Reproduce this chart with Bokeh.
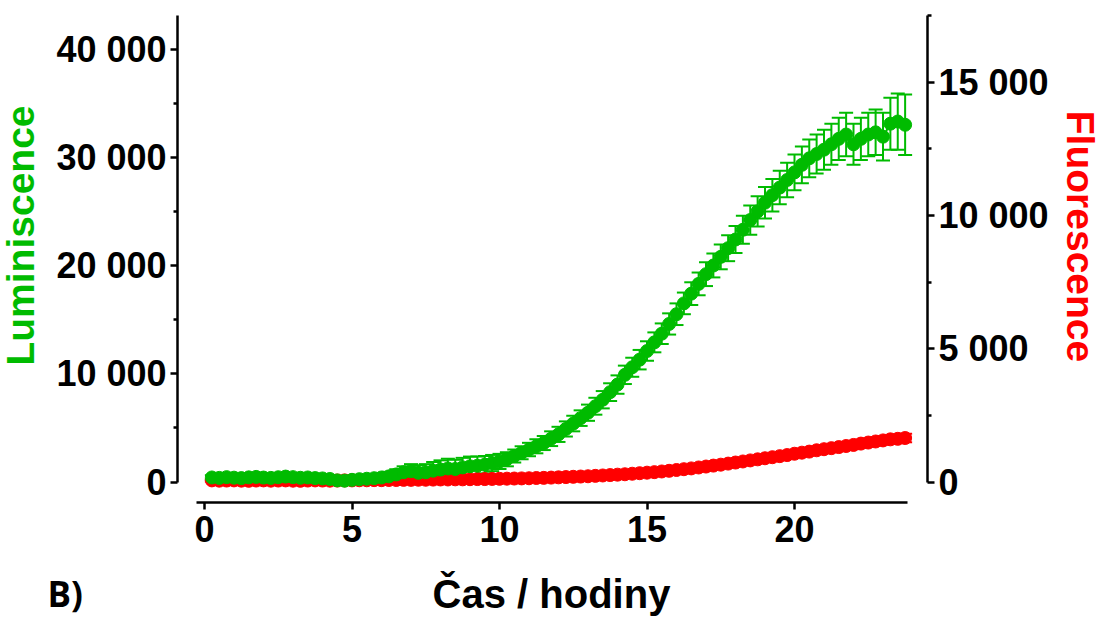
import math
from bokeh.plotting import figure
from bokeh.models import (Range1d, LinearAxis, FixedTicker, ColumnDataSource,
                          Whisker, TeeHead, Label)
from bokeh.embed import file_html
from bokeh.resources import INLINE

# ---------------- data ----------------
time_h = [0.25, 0.5, 0.75, 1.0, 1.25, 1.5, 1.75, 2.0, 2.25, 2.5, 2.75, 3.0,
          3.25, 3.5, 3.75, 4.0, 4.25, 4.5, 4.75, 5.0, 5.25, 5.5, 5.75, 6.0,
          6.25, 6.5, 6.75, 7.0, 7.25, 7.5, 7.75, 8.0, 8.25, 8.5, 8.75, 9.0,
          9.25, 9.5, 9.75, 10.0, 10.25, 10.5, 10.75, 11.0, 11.25, 11.5, 11.75, 12.0,
          12.25, 12.5, 12.75, 13.0, 13.25, 13.5, 13.75, 14.0, 14.25, 14.5, 14.75, 15.0,
          15.25, 15.5, 15.75, 16.0, 16.25, 16.5, 16.75, 17.0, 17.25, 17.5, 17.75, 18.0,
          18.25, 18.5, 18.75, 19.0, 19.25, 19.5, 19.75, 20.0, 20.25, 20.5, 20.75, 21.0,
          21.25, 21.5, 21.75, 22.0, 22.25, 22.5, 22.75, 23.0, 23.25, 23.5, 23.75]

luminescence = [420, 380, 450, 400, 360, 430, 470, 410, 380, 440, 500, 450, 390, 420, 360, 330,
                280, 150, 120, 200, 260, 300, 350, 420,
                520, 700, 900, 1000, 850, 900, 1050, 1150,
                1250, 1200, 1350, 1450, 1500, 1600, 1750, 1900,
                2100, 2400, 2700, 3000, 3300, 3600, 4000, 4400,
                4900, 5400, 5900, 6400, 7000, 7600, 8300, 9000,
                9900, 10600, 11300, 12100, 12900, 13700, 14600, 15500,
                16500, 17400, 18300, 19200, 20000, 20800, 21600, 22400,
                23300, 24200, 25000, 25800, 26500, 27200, 27900, 28600,
                29300, 29900, 30300, 30700, 31200, 31700, 32100, 31200,
                31700, 32100, 32300, 31900, 33100, 33300, 33000]

luminescence_err = [200, 180, 220, 200, 170, 210, 230, 200, 190, 220, 250, 230, 200, 210, 190, 180,
                    200, 220, 250, 280, 300, 320, 350, 380,
                    420, 480, 550, 650, 700, 750, 800, 850,
                    900, 850, 880, 900, 850, 800, 750, 700,
                    650, 600, 600, 620, 650, 650, 680, 700,
                    700, 720, 720, 750, 780, 800, 820, 850,
                    850, 880, 900, 900, 920, 950, 980, 1000,
                    1000, 1050, 1050, 1100, 1100, 1150, 1200, 1250,
                    1300, 1350, 1400, 1450, 1500, 1550, 1600, 1650,
                    1700, 1750, 1800, 1850, 1900, 1950, 2000, 1900,
                    1950, 2000, 2100, 2200, 2400, 2600, 2800]

fluorescence = [60, 50, 55, 60, 50, 45, 55, 60, 50, 55, 60, 50, 45, 55, 60, 55,
                50, 55, 60, 60, 65, 65, 70, 70,
                75, 75, 80, 80, 85, 85, 90, 95,
                95, 100, 100, 105, 110, 110, 115, 120,
                125, 130, 135, 140, 150, 155, 165, 175,
                185, 195, 205, 215, 230, 245, 260, 275,
                290, 310, 330, 350, 370, 395, 420, 450,
                480, 510, 545, 580, 615, 650, 690, 730,
                770, 810, 850, 890, 930, 970, 1010, 1060,
                1100, 1140, 1190, 1230, 1270, 1310, 1350, 1390,
                1440, 1480, 1520, 1560, 1600, 1620, 1650]

fluorescence_err = [40, 35, 40, 45, 40, 35, 40, 45, 40, 40, 45, 40, 35, 40, 45, 40,
                    40, 40, 45, 45, 45, 50, 50, 50,
                    50, 50, 55, 55, 55, 60, 60, 60,
                    60, 60, 65, 65, 65, 70, 70, 70,
                    70, 70, 75, 75, 75, 80, 80, 80,
                    80, 80, 85, 85, 85, 90, 90, 90,
                    90, 90, 95, 95, 95, 100, 100, 100,
                    100, 100, 105, 105, 105, 110, 110, 110,
                    110, 115, 115, 120, 120, 120, 125, 125,
                    125, 130, 130, 135, 135, 140, 140, 145,
                    145, 150, 150, 155, 155, 160, 160]

x_ticks = [0, 5, 10, 15, 20]
lum_ticks = [0, 10000, 20000, 30000, 40000]
lum_minor = [5000, 15000, 25000, 35000]
lum_labels = ["0", "10 000", "20 000", "30 000", "40 000"]
fl_ticks = [0, 5000, 10000, 15000]
fl_minor = [2500, 7500, 12500, 17500]
fl_labels = ["0", "5 000", "10 000", "15 000"]

GREEN = "#00bb00"
RED = "#ff0000"
FONT = "Liberation Sans"

W, H = 1101, 619
# pixel geometry of the reference (canvas coordinates, y from top)
PX_T0, PX_PER_H = 204.0, 29.5           # x: t=0 position, pixels per hour
PX_ZERO = 481.5                          # y pixel of value 0 on both y axes
PX_PER_LUM = 433.0 / 40000               # left axis pixels per unit
PX_PER_FL = 466.5 / 17500                # right axis pixels per unit
PX_LEFT_AX, PX_RIGHT_AX, PX_X_AX = 177.0, 927.0, 502.0

x_rng = Range1d(-PX_T0 / PX_PER_H, (W - PX_T0) / PX_PER_H)
lum_rng = Range1d(-(H - PX_ZERO) / PX_PER_LUM, PX_ZERO / PX_PER_LUM)
fl_rng = Range1d(-(H - PX_ZERO) / PX_PER_FL, PX_ZERO / PX_PER_FL)

lum_src = ColumnDataSource(dict(
    t=time_h, v=luminescence,
    lo=[v - e for v, e in zip(luminescence, luminescence_err)],
    hi=[v + e for v, e in zip(luminescence, luminescence_err)]))
fl_src = ColumnDataSource(dict(
    t=time_h, v=fluorescence,
    lo=[v - e for v, e in zip(fluorescence, fluorescence_err)],
    hi=[v + e for v, e in zip(fluorescence, fluorescence_err)]))

p = figure(width=W, height=H, output_backend="svg", toolbar_location=None,
           x_range=x_rng, y_range=lum_rng,
           min_border=0, min_border_left=0, min_border_right=0,
           min_border_top=0, min_border_bottom=0, outline_line_color=None,
           background_fill_color="white", border_fill_color="white")
p.extra_y_ranges = {"fl": fl_rng}
p.grid.visible = False


def style_axis(ax):
    ax.axis_line_width = 2.5
    ax.axis_line_color = "black"
    ax.major_tick_line_width = 2.5
    ax.minor_tick_line_width = 2.5
    ax.major_tick_in = 0
    ax.major_tick_out = 7
    ax.minor_tick_in = 0
    ax.minor_tick_out = 4
    ax.major_label_text_font = FONT
    ax.major_label_text_font_style = "bold"
    ax.major_label_text_font_size = "36px"
    ax.major_label_text_color = "black"
    ax.major_label_standoff = 4


# x axis (offset below the data, Prism style)
xa = p.xaxis[0]
style_axis(xa)
xa.ticker = FixedTicker(ticks=x_ticks)
xa.bounds = (-0.27, 23.83)
xa.minor_tick_out = 0
xa.major_label_standoff = 6
xa.fixed_location = -(PX_X_AX - PX_ZERO) / PX_PER_LUM

# left y axis (luminescence)
ya = p.yaxis[0]
style_axis(ya)
ya.ticker = FixedTicker(ticks=lum_ticks, minor_ticks=lum_minor)
ya.major_label_overrides = {t: s for t, s in zip(lum_ticks, lum_labels)}
ya.bounds = (0, PX_ZERO / PX_PER_LUM - 15 / PX_PER_LUM)
ya.fixed_location = (PX_LEFT_AX - PX_T0) / PX_PER_H

# right y axis (fluorescence)
yr = LinearAxis(y_range_name="fl")
style_axis(yr)
yr.ticker = FixedTicker(ticks=fl_ticks, minor_ticks=fl_minor)
yr.major_label_overrides = {t: s for t, s in zip(fl_ticks, fl_labels)}
yr.bounds = (0, 17500)
yr.fixed_location = (PX_RIGHT_AX - PX_T0) / PX_PER_H
p.add_layout(yr, "right")

# axis titles
p.add_layout(Label(x=20, y=H - 235, x_units="screen", y_units="screen",
                   text="Luminiscence", angle=math.pi / 2,
                   text_align="center", text_baseline="alphabetic",
                   text_font=FONT, text_font_style="bold",
                   text_font_size="39px", text_color=GREEN))
p.add_layout(Label(x=1080, y=H - 236, x_units="screen", y_units="screen",
                   text="Fluorescence", angle=-math.pi / 2,
                   text_align="center", text_baseline="alphabetic",
                   text_font=FONT, text_font_style="bold",
                   text_font_size="39px", text_color=RED))
p.add_layout(Label(x=551, y=H - 593, x_units="screen", y_units="screen",
                   text="Čas / hodiny", text_align="center", text_baseline="alphabetic",
                   text_font=FONT, text_font_style="bold",
                   text_font_size="40px", text_color="black"))
p.add_layout(Label(x=47, y=H - 593, x_units="screen", y_units="screen", text="B)",
                   text_baseline="alphabetic",
                   text_font="Open Sans", text_font_style="bold",
                   text_font_size="35px", text_color="black"))

# fluorescence series (drawn first, under the green)
p.add_layout(Whisker(source=fl_src, base="t", lower="lo", upper="hi", y_range_name="fl",
                     line_color=RED, line_width=2,
                     upper_head=TeeHead(size=14, line_color=RED, line_width=2),
                     lower_head=TeeHead(size=14, line_color=RED, line_width=2)))
p.line("t", "v", source=fl_src, y_range_name="fl", line_color=RED, line_width=2)
p.scatter("t", "v", source=fl_src, y_range_name="fl", size=13,
          fill_color=RED, line_color=RED)

# luminescence series
p.add_layout(Whisker(source=lum_src, base="t", lower="lo", upper="hi",
                     line_color=GREEN, line_width=2,
                     upper_head=TeeHead(size=14, line_color=GREEN, line_width=2),
                     lower_head=TeeHead(size=14, line_color=GREEN, line_width=2)))
p.line("t", "v", source=lum_src, line_color=GREEN, line_width=2)
p.scatter("t", "v", source=lum_src, size=13, fill_color=GREEN, line_color=GREEN)

open("out.html", "w").write(file_html(p, INLINE))
